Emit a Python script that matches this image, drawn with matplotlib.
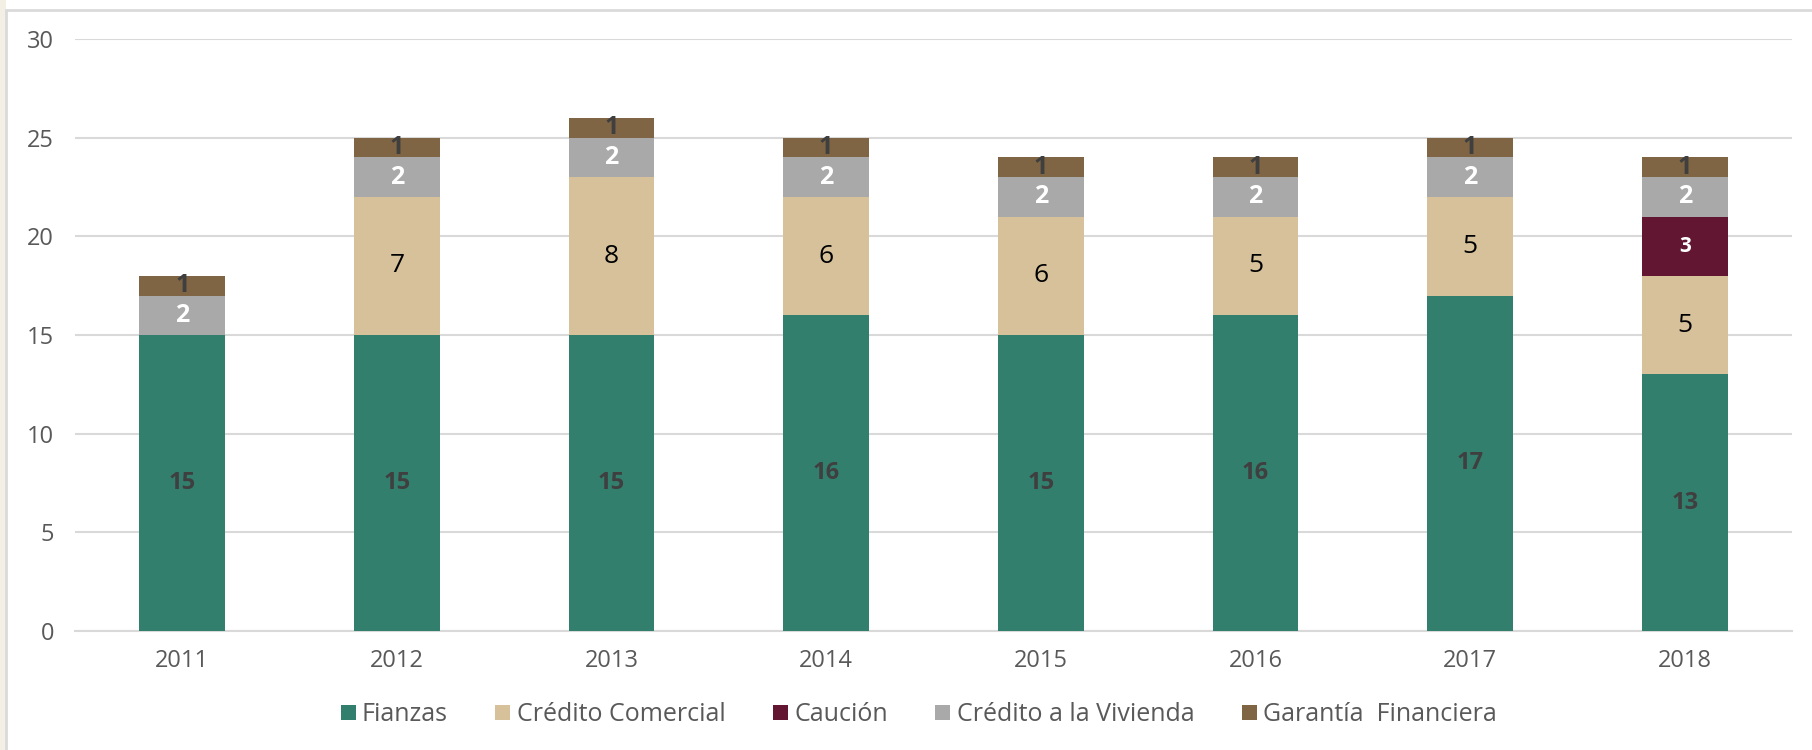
import matplotlib
matplotlib.use("Agg")
import matplotlib.pyplot as plt
from matplotlib.patches import Rectangle
import numpy as np

plt.rcParams['font.family'] = ['Open Sans', 'DejaVu Sans']

# Data
years = ['2011', '2012', '2013', '2014', '2015', '2016', '2017', '2018']
fianzas = [15, 15, 15, 16, 15, 16, 17, 13]
credito_comercial = [0, 7, 8, 6, 6, 5, 5, 5]
caucion = [0, 0, 0, 0, 0, 0, 0, 3]
credito_vivienda = [2, 2, 2, 2, 2, 2, 2, 2]
garantia = [1, 1, 1, 1, 1, 1, 1, 1]

series = [
    ('Fianzas', fianzas, '#337F6E', '#3F3F3F', 'bold', 17),
    ('Crédito Comercial', credito_comercial, '#D6C19B', '#000000', 'normal', 19),
    ('Caución', caucion, '#621631', '#FFFFFF', 'bold', 15),
    ('Crédito a la Vivienda', credito_vivienda, '#A9A9A9', '#FFFFFF', 'bold', 18),
    ('Garantía  Financiera', garantia, '#7F6544', '#3F3F3F', 'bold', 18),
]

fig = plt.figure(figsize=(18.12, 7.5), dpi=100)
fig.patch.set_facecolor('white')

# beige strip + light frame like the original slide
fig.patches.append(Rectangle((0, 0), 6 / 1812, 1, transform=fig.transFigure,
                             facecolor='#F3EFE5', edgecolor='none', zorder=0))
fig.patches.append(Rectangle((6 / 1812, -0.1), 1.1, 1 - 10 / 750 + 0.1, transform=fig.transFigure,
                             facecolor='none', edgecolor='#DADADA', linewidth=2, zorder=1))

ax = fig.add_axes([75 / 1812, 1 - 631 / 750, (1792 - 75) / 1812, (631 - 39) / 750])

x = np.arange(len(years))
bottom = np.zeros(len(years))
for name, vals, color, tcolor, weight, fsize in series:
    vals = np.array(vals, dtype=float)
    ax.bar(x, vals, width=0.4, bottom=bottom, color=color, label=name,
           edgecolor='none', zorder=3)
    for i, v in enumerate(vals):
        if v > 0:
            ax.text(x[i], bottom[i] + v / 2, f'{int(v)}', ha='center', va='center',
                    color=tcolor, fontsize=fsize, fontweight=weight, zorder=4)
    bottom += vals

ax.set_xlim(-0.5, len(years) - 0.5)
ax.set_ylim(0, 30)
ax.set_yticks([0, 5, 10, 15, 20, 25, 30])
ax.set_xticks(x)
ax.set_xticklabels(years)
ax.grid(axis='y', color='#D9D9D9', linewidth=1.5, zorder=0)
ax.set_axisbelow(True)
for s in ['top', 'right', 'left']:
    ax.spines[s].set_visible(False)
ax.spines['bottom'].set_color('#D9D9D9')
ax.spines['bottom'].set_linewidth(1.5)
ax.tick_params(axis='both', length=0, colors='#595959', labelsize=17)
ax.tick_params(axis='y', pad=15)
ax.tick_params(axis='x', pad=13)

handles, labels = ax.get_legend_handles_labels()
fig.legend(handles, labels, loc='center', bbox_to_anchor=(0.507, 0.047), ncol=5,
           frameon=False, fontsize=18, handlelength=0.6, handleheight=0.6,
           handletextpad=0.25, columnspacing=1.9, labelcolor='#595959')

fig.savefig('out.png', dpi=100, facecolor=fig.get_facecolor())
